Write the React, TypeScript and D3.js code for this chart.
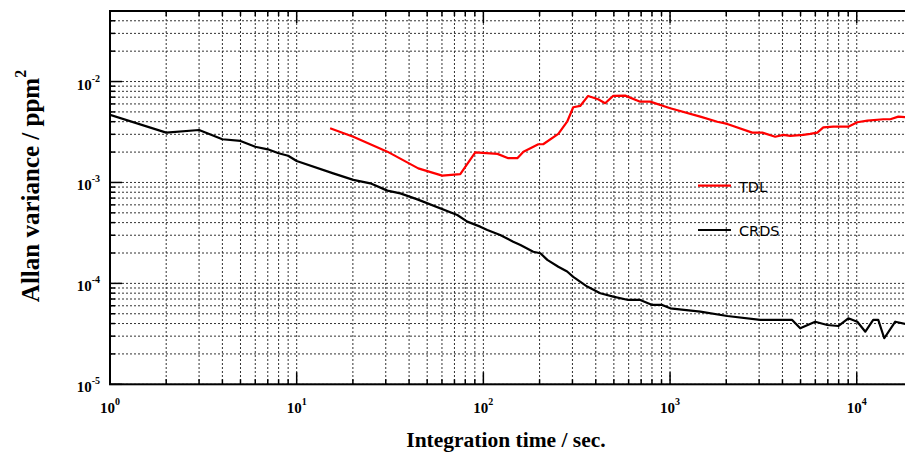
import React from "react";
import * as d3 from "d3";

const crdsTau = [1, 2, 3, 4, 5, 6, 7, 8, 9, 10, 15.7, 20.1, 24.8, 30.6, 35.9, 44.3, 72.5, 82, 96.2, 105, 123, 144.5, 158, 185, 202, 220, 252, 281, 303, 360, 423, 496, 597, 692, 803, 908, 1002, 1452, 2025, 3040, 4510, 4980, 5990, 6950, 7960, 9010, 10070, 11120, 12250, 13040, 14040, 16080, 18200];
const crdsVal = [4.67e-3, 3.12e-3, 3.31e-3, 2.68e-3, 2.58e-3, 2.26e-3, 2.13e-3, 1.95e-3, 1.84e-3, 1.63e-3, 1.23e-3, 1.06e-3, 9.8e-4, 8.3e-4, 7.8e-4, 6.8e-4, 4.76e-4, 4.09e-4, 3.65e-4, 3.38e-4, 3.01e-4, 2.59e-4, 2.4e-4, 2.06e-4, 1.99e-4, 1.71e-4, 1.46e-4, 1.31e-4, 1.16e-4, 9.3e-5, 7.98e-5, 7.4e-5, 6.85e-5, 6.85e-5, 6.11e-5, 6.11e-5, 5.66e-5, 5.25e-5, 4.75e-5, 4.34e-5, 4.34e-5, 3.59e-5, 4.17e-5, 3.87e-5, 3.78e-5, 4.51e-5, 4.17e-5, 3.32e-5, 4.34e-5, 4.34e-5, 2.86e-5, 4.17e-5, 3.96e-5];

const tdlTau = [15.1, 20.1, 30.6, 44.8, 60.2, 75.2, 90.5, 119, 136, 152, 164, 197, 209, 252, 281, 303, 330, 364, 412, 449, 496, 575, 692, 783, 1002, 1452, 1790, 2025, 2755, 3120, 3660, 4040, 4400, 5170, 5630, 6150, 6620, 7490, 9010, 10070, 11400, 13900, 15140, 16700, 18200];
const tdlVal = [3.44e-3, 2.84e-3, 2.02e-3, 1.38e-3, 1.17e-3, 1.21e-3, 1.99e-3, 1.92e-3, 1.74e-3, 1.74e-3, 2.02e-3, 2.39e-3, 2.39e-3, 3.03e-3, 4.0e-3, 5.56e-3, 5.73e-3, 7.2e-3, 6.68e-3, 6.1e-3, 7.2e-3, 7.25e-3, 6.32e-3, 6.32e-3, 5.44e-3, 4.49e-3, 4.0e-3, 3.8e-3, 3.12e-3, 3.12e-3, 2.84e-3, 2.96e-3, 2.89e-3, 2.96e-3, 3.03e-3, 3.12e-3, 3.52e-3, 3.57e-3, 3.57e-3, 3.95e-3, 4.1e-3, 4.23e-3, 4.23e-3, 4.49e-3, 4.43e-3];

const xDomain = [1, 21000];
const yDomain = [1e-5, 5e-2];
const xMajorExp = [0, 1, 2, 3, 4];
const yMajorExp = [-5, -4, -3, -2];
const seriesNames = ["TDL", "CRDS"];
const seriesColors = ["#ff0000", "#000000"];
const xTitle = "Integration time / sec.";
const yTitle = "Allan variance / ppm";

export default function App() {
  const W = 905, H = 454;
  const L = 110, R = 916.9, T = 11, B = 384.3;
  const x = d3.scaleLog().domain(xDomain).range([L, R]);
  const y = d3.scaleLog().domain(yDomain).range([B, T]);
  const xt = x.ticks();
  const yt = y.ticks();
  const isMajor = (v: number) => Math.abs(Math.log10(v) - Math.round(Math.log10(v))) < 1e-9;
  const line = d3.line<[number, number]>().x(d => x(d[0])).y(d => y(d[1]));
  const crds = line(crdsTau.map((t, i) => [t, crdsVal[i]] as [number, number])) || "";
  const tdl = line(tdlTau.map((t, i) => [t, tdlVal[i]] as [number, number])) || "";
  const serif = "'Liberation Serif', 'Times New Roman', serif";
  const sans = "'DejaVu Sans', Verdana, sans-serif";
  return (
    <svg width={W} height={H} style={{ position: "absolute", left: 0, top: 0, background: "#fff" }}>
      <defs>
        <clipPath id="plot"><rect x={L} y={T} width={R - L} height={B - T} /></clipPath>
      </defs>
      <rect x={0} y={0} width={W} height={H} fill="#fff" />
      {/* grid */}
      <g stroke="#000" strokeWidth={1} strokeDasharray="2,2" opacity={0.8}>
        {xt.map((v, i) => <line key={"gx" + i} x1={x(v)} x2={x(v)} y1={T} y2={B} />)}
        {yt.map((v, i) => <line key={"gy" + i} x1={L} x2={R} y1={y(v)} y2={y(v)} />)}
      </g>
      {/* ticks */}
      <g stroke="#000" strokeWidth={1.5}>
        {xt.map((v, i) => {
          const len = isMajor(v) ? 12 : 5;
          return (
            <g key={"tx" + i}>
              <line x1={x(v)} x2={x(v)} y1={B} y2={B - len} />
              <line x1={x(v)} x2={x(v)} y1={T} y2={T + len} />
            </g>
          );
        })}
        {yt.map((v, i) => {
          const len = isMajor(v) ? 12 : 5;
          return (
            <g key={"ty" + i}>
              <line x1={L} x2={L + len} y1={y(v)} y2={y(v)} />
              <line x1={R} x2={R - len} y1={y(v)} y2={y(v)} />
            </g>
          );
        })}
      </g>
      {/* data */}
      <g clipPath="url(#plot)" fill="none" strokeWidth={2.2} strokeLinejoin="round">
        <path d={tdl} stroke={seriesColors[0]} />
        <path d={crds} stroke={seriesColors[1]} />
      </g>
      {/* frame */}
      <rect x={L} y={T} width={R - L} height={B - T} fill="none" stroke="#000" strokeWidth={2} />
      {/* tick labels & titles */}
      <g fontFamily={serif} fontWeight="bold" fill="#000">
        {xMajorExp.map(e => (
          <text key={"xl" + e} x={x(Math.pow(10, e))} y={413} textAnchor="middle" fontSize={15}>
            10<tspan fontSize={10} dy={-8}>{e}</tspan>
          </text>
        ))}
        {yMajorExp.map(e => (
          <text key={"yl" + e} x={100} y={y(Math.pow(10, e)) + 8} textAnchor="end" fontSize={15}>
            10<tspan fontSize={10} dy={-8}>{"-" + Math.abs(e)}</tspan>
          </text>
        ))}
        <text x={506} y={447} textAnchor="middle" fontSize={21.5}>{xTitle}</text>
        <text transform={`translate(39, ${186}) rotate(-90)`} textAnchor="middle" fontSize={25}>
          {yTitle}<tspan fontSize={16} dy={-13}>2</tspan>
        </text>
      </g>
      {/* legend */}
      <g fontFamily={sans} fontSize={14.5} fill="#000">
        {seriesNames.map((n, i) => (
          <g key={n} transform={`translate(0, ${185.7 + i * 44.3})`}>
            <line x1={698} x2={731} y1={0} y2={0} stroke={seriesColors[i]} strokeWidth={2.2} />
            <text x={739} y={6}>{n}</text>
          </g>
        ))}
      </g>
    </svg>
  );
}
